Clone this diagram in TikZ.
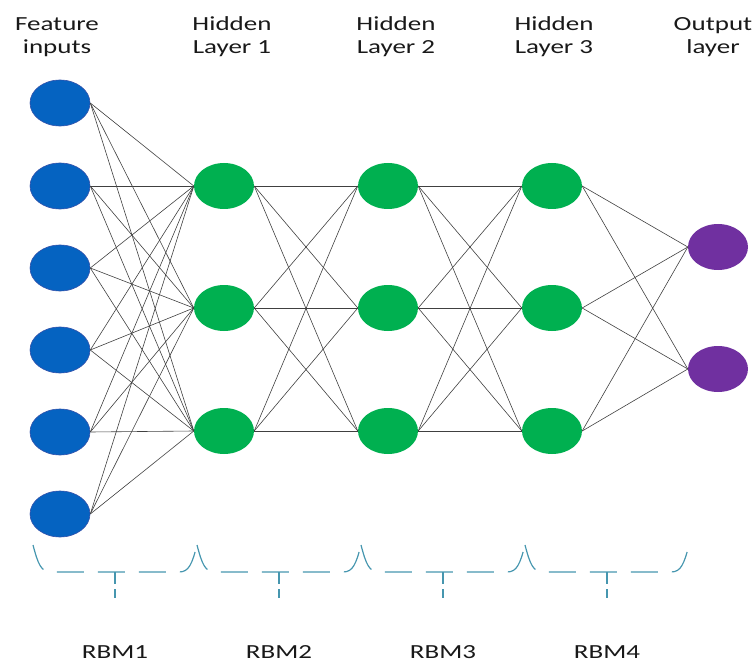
\documentclass[tikz,border=0pt]{standalone}
\usepackage{fontspec}
\setmainfont{Carlito}[FakeStretch=1.35]
\usetikzlibrary{shapes.geometric}
\definecolor{inblue}{RGB}{5,99,193}
\definecolor{inborder}{RGB}{50,80,170}
\definecolor{hidgreen}{RGB}{0,176,80}
\definecolor{outpurple}{RGB}{112,48,160}
\definecolor{bracecol}{RGB}{70,150,175}
\begin{document}
\begin{tikzpicture}[x=1pt,y=-1pt,
  neuron/.style={ellipse, minimum width=60pt, minimum height=46pt, inner sep=0pt},
  inneuron/.style={neuron, fill=inblue, draw=inborder, line width=0.6pt},
  hidneuron/.style={neuron, fill=hidgreen},
  outneuron/.style={neuron, fill=outpurple},
  edge/.style={draw=black!75, line width=0.6pt},
  bracestyle/.style={draw=bracecol, line width=1.2pt, dash pattern=on 27pt off 14pt},
  lbl/.style={font=\fontsize{20}{23}\selectfont, align=center, anchor=base, inner sep=0pt, text=black!90}]
\useasboundingbox (0,0) rectangle (755,663);
% labels (anchor = baseline of the last line)
\node[lbl] (tin) at (57,54) {Feature\\inputs};
\node[lbl] (th1) at (232,54) {Hidden\\Layer 1};
\node[lbl] (th2) at (396,54) {Hidden\\Layer 2};
\node[lbl] (th3) at (554,54) {Hidden\\Layer 3};
\node[lbl] (tout) at (713,54) {Output\\layer};
% neurons
\foreach \i/\y in {1/103,2/186,3/268,4/350,5/432,6/514}
  \node[inneuron] (I\i) at (60,\y) {};
\foreach \j/\y in {1/186,2/308,3/431}{
  \node[hidneuron] (A\j) at (224,\y) {};
  \node[hidneuron] (B\j) at (388,\y) {};
  \node[hidneuron] (C\j) at (552,\y) {};
}
\foreach \k/\y in {1/247,2/369}
  \node[outneuron] (O\k) at (718,\y) {};
% connections
\foreach \i in {1,...,6}
  \foreach \j in {1,2,3}
    \draw[edge] (I\i.east) -- (A\j.west);
\foreach \i in {1,2,3}
  \foreach \j in {1,2,3}{
    \draw[edge] (A\i.east) -- (B\j.west);
    \draw[edge] (B\i.east) -- (C\j.west);
  }
\foreach \i in {1,2,3}
  \foreach \k in {1,2}
    \draw[edge] (C\i.east) -- (O\k.west);
% braces
\foreach \xa/\xb/\n in {33/197/1,197/361/2,361/525/3,525/689/4}{
  \pgfmathsetmacro{\xm}{(\xa+\xb)/2}
  \draw[bracestyle] (\xa,545) .. controls (\xa+5,564) and (\xa+8,572) .. (\xa+18,572)
     -- (\xb-18,572) .. controls (\xb-8,572) and (\xb-5,564) .. (\xb,545);
  \draw[bracestyle, dash pattern=on 12pt off 5pt] (\xm,572) -- (\xm,598);
  \node[lbl] (rbm\n) at (\xm,658) {RBM\n};
}
\end{tikzpicture}
\end{document}
